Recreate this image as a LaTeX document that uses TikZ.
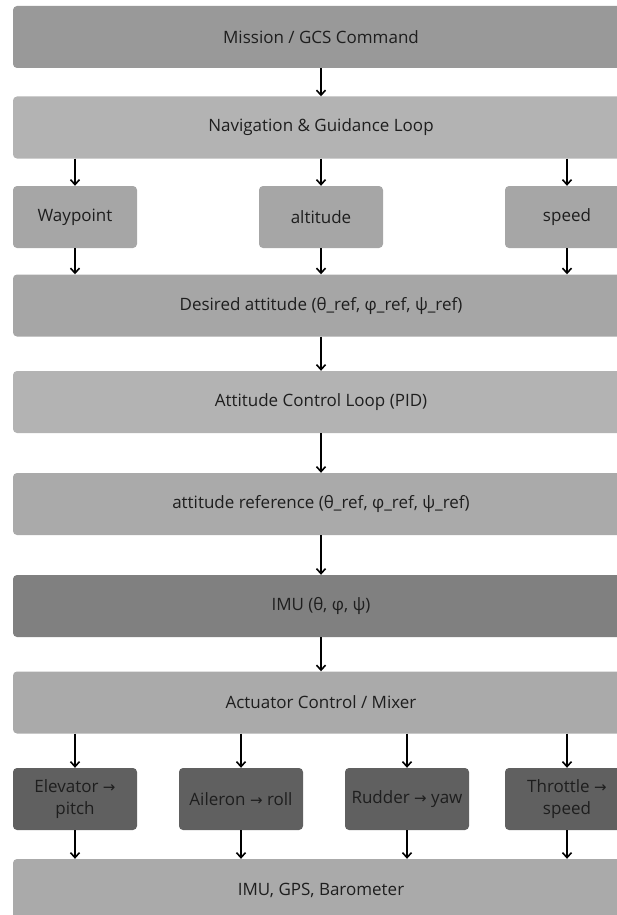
\documentclass[tikz,border=0pt]{standalone}
\usepackage{fontspec}
\setmainfont{Open Sans}
\newfontfamily\arrowfont{DejaVu Sans}
\usetikzlibrary{arrows.meta}
\definecolor{cA}{HTML}{999999}
\definecolor{cB}{HTML}{B3B3B3}
\definecolor{cC}{HTML}{A6A6A6}
\definecolor{cD}{HTML}{AAAAAA}
\definecolor{cE}{HTML}{808080}
\definecolor{cF}{HTML}{606060}
\definecolor{txt}{HTML}{1E1E1E}
\newcommand{\ra}{{\arrowfont\fontsize{15}{20}\selectfont→}}
\begin{document}
\begin{tikzpicture}[x=1pt,y=-1pt,
  box/.style={rounded corners=4pt, inner sep=0pt, text=txt, font=\fontsize{17}{22}\selectfont, align=center, minimum height=62pt},
  wide/.style={box, minimum width=616pt},
  small/.style={box, minimum width=124pt},
  conn/.style={-{Straight Barb[length=5pt,width=9pt]}, line width=1.6pt, black}
]
\useasboundingbox (0,0) rectangle (617,915);
\node[wide, fill=cA] (mission) at (321,37) {Mission / GCS Command};
\node[wide, fill=cB] (nav) at (321,127.5) {Navigation \& Guidance Loop};
\node[small, fill=cC] (wp) at (75,217) {Waypoint};
\node[small, fill=cC] (alt) at (321,217) {altitude};
\node[small, fill=cC] (spd) at (567,217) {speed};
\node[wide, fill=cC] (des) at (321,305.5) {Desired attitude (θ\_ref, φ\_ref, ψ\_ref)};
\node[wide, fill=cB] (acl) at (321,402) {Attitude Control Loop (PID)};
\node[wide, fill=cD] (aref) at (321,504) {attitude reference (θ\_ref, φ\_ref, ψ\_ref)};
\node[wide, fill=cE] (imu) at (321,606) {IMU (θ, φ, ψ)};
\node[wide, fill=cD] (act) at (321,702.5) {Actuator Control / Mixer};
\node[small, fill=cF] (elev) at (75,799) {Elevator \ra\\pitch};
\node[small, fill=cF] (ail) at (241,799) {Aileron \ra{} roll};
\node[small, fill=cF] (rud) at (407,799) {Rudder \ra{} yaw};
\node[small, fill=cF] (thr) at (567,799) {Throttle \ra\\speed};
\node[wide, fill=cD] (sens) at (321,890) {IMU, GPS, Barometer};

\draw[conn] (mission) -- (nav);
\foreach \n in {wp,alt,spd}{
  \draw[conn] (nav.south -| \n) -- (\n);
  \draw[conn] (\n) -- (des.north -| \n);
}
\draw[conn] (des) -- (acl);
\draw[conn] (acl) -- (aref);
\draw[conn] (aref) -- (imu);
\draw[conn] (imu) -- (act);
\foreach \n in {elev,ail,rud,thr}{
  \draw[conn] (act.south -| \n) -- (\n);
  \draw[conn] (\n) -- (sens.north -| \n);
}
\end{tikzpicture}
\end{document}
